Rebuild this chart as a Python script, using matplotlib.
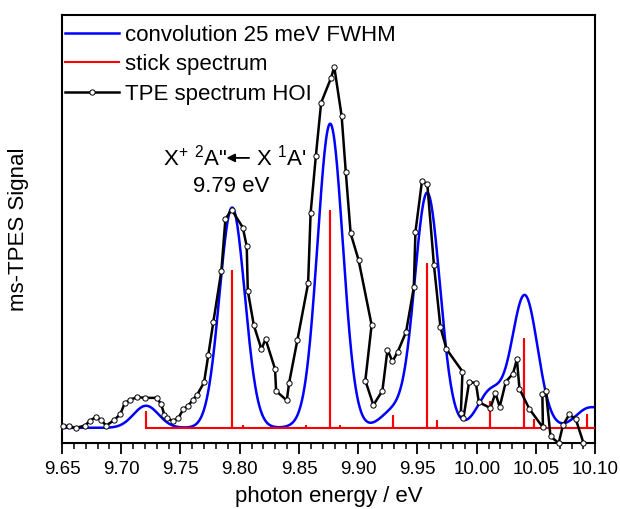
import numpy as np
import matplotlib
matplotlib.use('Agg')
import matplotlib.pyplot as plt
from matplotlib.ticker import MultipleLocator

plt.rcParams['font.family'] = ['Liberation Sans', 'DejaVu Sans']
plt.rcParams['mathtext.fontset'] = 'custom'
plt.rcParams['mathtext.rm'] = 'Liberation Sans'
plt.rcParams['mathtext.it'] = 'Liberation Sans'

# TPE spectrum HOI (normalised signal vs photon energy / eV)
tpe_energy = [9.6511, 9.6562, 9.6616, 9.6694, 9.6736, 9.6787, 9.6832, 9.6872, 9.6939, 9.6992,
              9.7029, 9.7074, 9.7136, 9.7201, 9.7300, 9.7336, 9.7364, 9.7389, 9.7435, 9.7482,
              9.7524, 9.7566, 9.7604, 9.7640, 9.7699, 9.7735, 9.7777, 9.7845, 9.7879, 9.7931,
              9.8026, 9.8059, 9.8068, 9.8119, 9.8183, 9.8218, 9.8298, 9.8307, 9.8397, 9.8417,
              9.8487, 9.8577, 9.8598, 9.8642, 9.8687, 9.8771, 9.8798, 9.8860, 9.8895, 9.8936,
              9.9003, 9.9113, 9.9060, 9.9128, 9.9204, 9.9247, 9.9289, 9.9334, 9.9404, 9.9469,
              9.9483, 9.9538, 9.9583, 9.9639, 9.9694, 9.9745, 9.9880, 9.9866, 9.9888, 9.9936,
              9.9993, 10.0018, 10.0115, 10.0158, 10.0194, 10.0246, 10.0306, 10.0339, 10.0361, 10.0443,
              10.0559, 10.0554, 10.0584, 10.0623, 10.0692, 10.0728, 10.0781, 10.0836, 10.0901]
tpe_signal = [0.006, 0.004, 0.000, 0.006, 0.020, 0.030, 0.021, 0.006, 0.021, 0.038,
              0.068, 0.078, 0.085, 0.083, 0.083, 0.066, 0.036, 0.026, 0.019, 0.027,
              0.052, 0.061, 0.078, 0.091, 0.126, 0.202, 0.293, 0.435, 0.578, 0.605,
              0.555, 0.503, 0.380, 0.284, 0.218, 0.246, 0.163, 0.102, 0.076, 0.125,
              0.244, 0.400, 0.594, 0.752, 0.901, 0.970, 1.000, 0.864, 0.709, 0.539,
              0.465, 0.285, 0.131, 0.063, 0.103, 0.216, 0.184, 0.211, 0.266, 0.389,
              0.543, 0.684, 0.676, 0.451, 0.279, 0.218, 0.156, 0.040, 0.027, 0.127,
              0.124, 0.071, 0.055, 0.096, 0.058, 0.128, 0.150, 0.190, 0.108, 0.053,
              0.001, 0.093, 0.102, -0.024, -0.042, 0.007, 0.037, 0.024, -0.042]

# stick spectrum (Franck-Condon positions and intensities)
stick_energy = [9.7209, 9.7935, 9.8026, 9.8560, 9.8763, 9.8847, 9.9297, 9.9580,
                9.9664, 10.0116, 10.0400, 10.0485, 10.0935, 10.1150]
stick_height = [0.044, 0.435, 0.006, 0.006, 0.601, 0.006, 0.033, 0.454,
                0.019, 0.072, 0.247, 0.022, 0.036, 0.030]

fwhm = 0.025       # eV
conv_scale = 1.39  # height of convolved peak relative to the stick

# convolution of the stick spectrum with a 25 meV FWHM gaussian
sigma = fwhm / (2 * np.sqrt(2 * np.log(2)))
e_grid = np.linspace(9.60, 10.15, 1500)
conv = np.zeros_like(e_grid)
for e0, h in zip(stick_energy, stick_height):
    conv += conv_scale * h * np.exp(-(e_grid - e0) ** 2 / (2 * sigma ** 2))

# stick path: baseline with a vertical line at every stick
stick_x = np.repeat(stick_energy, 3)
stick_y = np.column_stack([np.zeros(len(stick_height)), stick_height,
                           np.zeros(len(stick_height))]).ravel()

fig = plt.figure(figsize=(6.2, 5.09), dpi=100)
ax = fig.add_axes([0.1, 0.1297, 0.86, 0.8408])

ax.plot(e_grid, conv, color='#0000ff', lw=1.8, label='convolution 25 meV FWHM', zorder=2)
ax.plot(stick_x, stick_y, color='#ff0000', lw=1.5, label='stick spectrum', zorder=3)
ax.plot(tpe_energy, tpe_signal, color='black', lw=1.8, marker='o', markersize=3.8,
        markerfacecolor='white', markeredgecolor='black', markeredgewidth=0.7,
        label='TPE spectrum HOI', zorder=4, clip_on=False)

ax.set_xlim(9.65, 10.10)
ax.set_ylim(-0.042, 1.144)
ax.xaxis.set_major_locator(MultipleLocator(0.05))
ax.xaxis.set_minor_locator(MultipleLocator(0.01))
ax.xaxis.set_major_formatter(matplotlib.ticker.FormatStrFormatter('%.2f'))
ax.set_yticks([])
ax.tick_params(axis='x', which='major', direction='out', length=8, width=1.3,
               labelsize=13.5, pad=5)
ax.tick_params(axis='x', which='minor', direction='out', length=4, width=1.1)
for sp in ax.spines.values():
    sp.set_linewidth(1.5)

ax.set_xlabel('photon energy / eV', fontsize=16, labelpad=6)
ax.set_ylabel('ms-TPES Signal', fontsize=16, labelpad=24)

ax.legend(loc='upper left', bbox_to_anchor=(0.0, 0.985), frameon=False, fontsize=16,
          handlelength=2.4, handletextpad=0.3, labelspacing=0.38, borderaxespad=0.05,
          borderpad=0.1, numpoints=1)

# assignment of the first band
ax.text(9.7353, 0.748, 'X$^{+}$ $^{2}$A"', fontsize=16, ha='left', va='center')
ax.annotate('', xy=(9.7888, 0.748), xytext=(9.8079, 0.748),
            arrowprops=dict(arrowstyle='-|>', color='black', lw=1.3,
                            mutation_scale=12, shrinkA=0, shrinkB=0))
ax.text(9.8135, 0.748, "X $^{1}$A'", fontsize=16, ha='left', va='center')
ax.text(9.7927, 0.670, '9.79 eV', fontsize=16, ha='center', va='center')

fig.savefig('out.png', dpi=100)
